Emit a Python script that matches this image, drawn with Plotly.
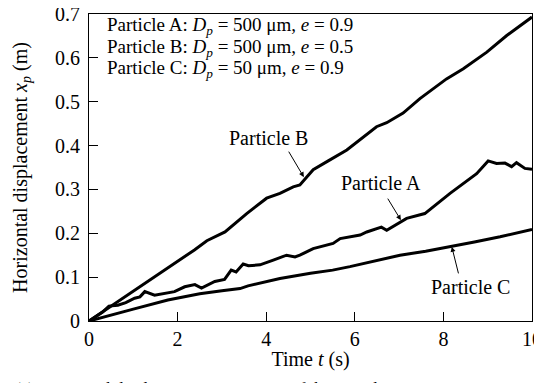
import plotly.graph_objects as go

# ---- data ----
t_B = [0, 0.5, 1.15, 1.6, 2.38, 2.66, 3.07, 3.56, 4.01, 4.31, 4.61, 4.76, 5.06, 5.4, 5.82,
       6.49, 6.72, 7.09, 7.47, 8.07, 8.45, 8.98, 9.43, 10]
x_B = [0, 0.034, 0.08, 0.11, 0.162, 0.183, 0.203, 0.245, 0.28, 0.291, 0.306, 0.31, 0.345, 0.365, 0.39,
       0.443, 0.452, 0.474, 0.507, 0.552, 0.575, 0.613, 0.651, 0.693]

t_A = [0, 0.3, 0.45, 0.65, 0.83, 1.03, 1.15, 1.26, 1.48, 1.93, 2.16, 2.39, 2.54, 2.84, 3.06,
       3.21, 3.32, 3.48, 3.6, 3.86, 4.16, 4.46, 4.65, 4.76, 5.06, 5.51, 5.67, 5.89, 6.12, 6.27,
       6.49, 6.6, 6.72, 7.02, 7.17, 7.58, 8.15, 8.75, 9.01, 9.2, 9.39, 9.54, 9.65, 9.84, 10]
x_A = [0, 0.02, 0.034, 0.036, 0.042, 0.052, 0.055, 0.067, 0.059, 0.067, 0.078, 0.083, 0.075, 0.09, 0.095,
       0.116, 0.112, 0.13, 0.126, 0.128, 0.139, 0.15, 0.146, 0.15, 0.165, 0.177, 0.188, 0.192, 0.196, 0.203,
       0.211, 0.214, 0.207, 0.226, 0.234, 0.245, 0.291, 0.336, 0.365, 0.359, 0.36, 0.352, 0.361, 0.348, 0.346]

t_C = [0, 0.5, 1.0, 1.78, 2.5, 3.0, 3.41, 3.59, 4.31, 5.0, 5.5, 5.89, 6.5, 7.02, 7.6, 8.15, 8.7, 9.28, 10]
x_C = [0, 0.014, 0.027, 0.048, 0.062, 0.069, 0.074, 0.08, 0.097, 0.109, 0.116, 0.124, 0.138, 0.15,
       0.159, 0.169, 0.18, 0.192, 0.209]

x_ticks = [0, 2, 4, 6, 8, 10]
y_ticks = [0, 0.1, 0.2, 0.3, 0.4, 0.5, 0.6, 0.7]

legend_lines = [
    "Particle A: <i>D<sub>p</sub></i> = 500 μm, <i>e</i> = 0.9",
    "Particle B: <i>D<sub>p</sub></i> = 500 μm, <i>e</i> = 0.5",
    "Particle C: <i>D<sub>p</sub></i> = 50 μm, <i>e</i> = 0.9",
]

FONT = "Liberation Serif, Times New Roman, serif"
FS = 20

fig = go.Figure()
for t, x in [(t_B, x_B), (t_A, x_A), (t_C, x_C)]:
    fig.add_trace(go.Scatter(x=t, y=x, mode="lines",
                             line=dict(color="black", width=3),
                             showlegend=False, hoverinfo="skip"))

axis_common = dict(
    showgrid=False, zeroline=False, showline=True, linecolor="black", linewidth=1,
    mirror=True, ticks="inside", ticklen=9, tickwidth=1, tickcolor="black",
    tickfont=dict(family=FONT, size=FS, color="black"), automargin=False,
    ticklabeloverflow="allow",
)
fig.update_xaxes(range=[0, 10], tickvals=x_ticks,
                 title=dict(text="Time <i>t</i> (s)", font=dict(family=FONT, size=FS, color="black"),
                            standoff=2),
                 **axis_common)
fig.update_yaxes(range=[0, 0.7], tickvals=y_ticks, ticklabelstandoff=4,
                 ticktext=["0" if v == 0 else f"{v:.1f}" for v in y_ticks],
                 title=dict(text="Horizontal displacement <i>x<sub>p</sub></i> (m)",
                            font=dict(family=FONT, size=FS, color="black"), standoff=22),
                 **axis_common)

ann = []
# legend-like text block
for i, line in enumerate(legend_lines):
    ann.append(dict(x=0.36, y=0.672 - i * 0.049, xref="x", yref="y", text=line,
                    showarrow=False, xanchor="left", yanchor="middle",
                    font=dict(family=FONT, size=19, color="black")))

# curve labels
labels = [("Particle B", 4.06, 0.417), ("Particle A", 6.6, 0.315), ("Particle C", 8.61, 0.077)]
for txt, lx, ly in labels:
    ann.append(dict(x=lx, y=ly, xref="x", yref="y", text=txt, showarrow=False,
                    font=dict(family=FONT, size=FS, color="black")))

# arrows (head in data coords, tail offset in pixels)
arrows = [(4.85, 0.328, -16, -27), (7.04, 0.230, -14, -23), (8.19, 0.169, 7, 28)]
for hx, hy, ax, ay in arrows:
    ann.append(dict(x=hx, y=hy, xref="x", yref="y", text="", showarrow=True,
                    ax=ax, ay=ay, arrowhead=2, arrowsize=1.0, arrowwidth=1, arrowcolor="black",
                    standoff=0))

# partially visible caption at the bottom edge (cropped in the reference)
ann.append(dict(x=-0.172, y=-0.182, xref="paper", yref="paper", yanchor="top", xanchor="left",
                text="(a) Horizontal displacement versus time of the particles",
                showarrow=False, font=dict(family=FONT, size=17, color="black")))

# the page body has an 8 px margin, so the figure is sized to the visible area
fig.update_layout(
    width=534, height=375,
    margin=dict(l=81, r=10, t=6, b=62),
    paper_bgcolor="white", plot_bgcolor="white",
    annotations=ann,
)

fig.write_html("out.html")
